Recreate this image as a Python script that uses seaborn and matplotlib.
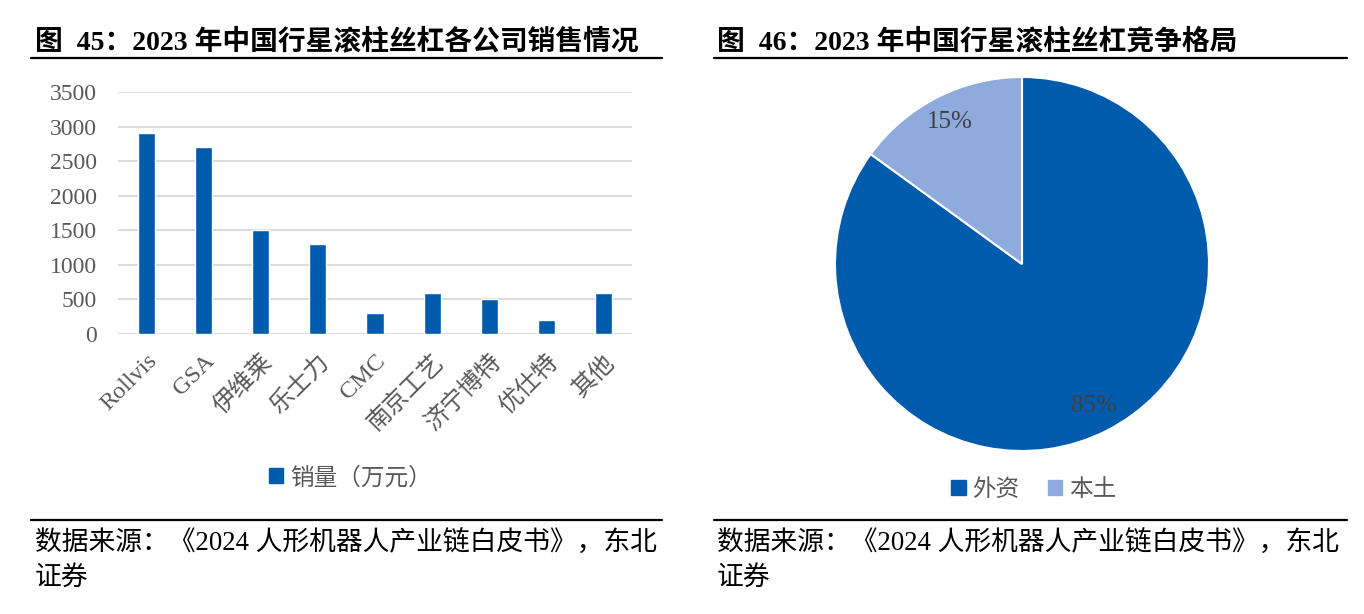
import matplotlib
matplotlib.use("Agg")
import matplotlib.pyplot as plt
from matplotlib.lines import Line2D
from matplotlib.patches import Patch
import seaborn as sns
import pandas as pd

# ---- data ----
companies = ["Rollvis", "GSA", "伊维莱", "乐士力", "CMC", "南京工艺", "济宁博特", "优仕特", "其他"]
sales = [2900, 2700, 1500, 1300, 300, 600, 500, 200, 600]
bar_series = "销量（万元）"
y_ticks = [0, 500, 1000, 1500, 2000, 2500, 3000, 3500]

pie_labels = ["外资", "本土"]
pie_shares = [85, 15]

title_left = "图  45：2023 年中国行星滚柱丝杠各公司销售情况"
title_right = "图  46：2023 年中国行星滚柱丝杠竞争格局"
source_line1 = "数据来源：《2024 人形机器人产业链白皮书》，东北"
source_line2 = "证券"

# ---- style ----
sns.set_theme(style="white")
FONTS = ["Liberation Serif", "Noto Sans CJK SC", "DejaVu Sans"]
plt.rcParams["font.family"] = FONTS
DARK = "#005BAC"
LIGHT = "#8FAADC"
GRAY_TXT = "#595959"

W, H = 1364, 614
fig = plt.figure(figsize=(W / 100, H / 100), dpi=100)
fig.patch.set_facecolor("white")


def fx(px):
    return px / W


def fy(py):
    return 1 - py / H


# ---- titles, rules, sources ----
for x0, x1, tx, title in [(31, 662, 35, title_left), (714, 1347, 717, title_right)]:
    fig.text(fx(tx), fy(42), title, fontsize=20, fontweight="bold",
             color="black", va="center", ha="left")
    fig.add_artist(Line2D([fx(x0), fx(x1)], [fy(58), fy(58)], color="black", lw=1.6))
    fig.add_artist(Line2D([fx(x0), fx(x1)], [fy(520), fy(520)], color="black", lw=1.6))
    fig.text(fx(tx), fy(544), source_line1, fontsize=19.3, color="black", va="center", ha="left")
    fig.text(fx(tx), fy(578), source_line2, fontsize=19.3, color="black", va="center", ha="left")

# ---- bar chart ----
df = pd.DataFrame({"company": companies, "sales": sales})
ax = fig.add_axes([fx(118), fy(334), (632 - 118) / W, (334 - 92) / H])
sns.barplot(data=df, x="company", y="sales", color=DARK, width=0.3,
            saturation=1, ax=ax, label=bar_series, zorder=3)
ax.set_ylim(0, 3500)
ax.set_yticks(y_ticks)
ax.set_yticklabels([str(v) for v in y_ticks], fontsize=17, color=GRAY_TXT)
ax.set_xlim(-0.5, len(companies) - 0.5)
ax.set_xlabel("")
ax.set_ylabel("")
ax.grid(axis="y", color="#D9D9D9", lw=1.3, zorder=0)
ax.grid(axis="x", visible=False)
for s in ax.spines.values():
    s.set_visible(False)
ax.tick_params(axis="both", length=0)
ax.tick_params(axis="y", pad=15)
ax.set_xticks(range(len(companies)))
ax.set_xticklabels(companies, rotation=45, ha="right", rotation_mode="anchor",
                   fontsize=17.5, color=GRAY_TXT)
ax.tick_params(axis="x", pad=12)
if ax.get_legend():
    ax.get_legend().remove()
fig.legend(handles=[Patch(color=DARK, label=bar_series)], loc="center",
           bbox_to_anchor=(fx(350), fy(478)), frameon=False, fontsize=17,
           handlelength=0.6, handleheight=0.6, handletextpad=0.3,
           labelcolor=GRAY_TXT)

# ---- pie chart ----
cx, cy, r = 1022, 264, 187
pax = fig.add_axes([fx(cx - r), fy(cy + r), 2 * r / W, 2 * r / H])
wedges, texts, autotexts = pax.pie(
    pie_shares, colors=[DARK, LIGHT], startangle=90, counterclock=False,
    autopct="%d%%", pctdistance=0.85,
    wedgeprops=dict(edgecolor="white", linewidth=1.5),
    textprops=dict(fontsize=18, color="#404040"))
pax.set_xlim(-1, 1)
pax.set_ylim(-1, 1)
pax.set_aspect("equal")
fig.legend(handles=[Patch(color=DARK, label=pie_labels[0]),
                    Patch(color=LIGHT, label=pie_labels[1])],
           loc="center", bbox_to_anchor=(fx(1034), fy(490)), ncol=2,
           frameon=False, fontsize=17, handlelength=0.6, handleheight=0.6,
           handletextpad=0.3, columnspacing=1.2, labelcolor=GRAY_TXT)

fig.savefig("out.png", dpi=100, facecolor="white")
